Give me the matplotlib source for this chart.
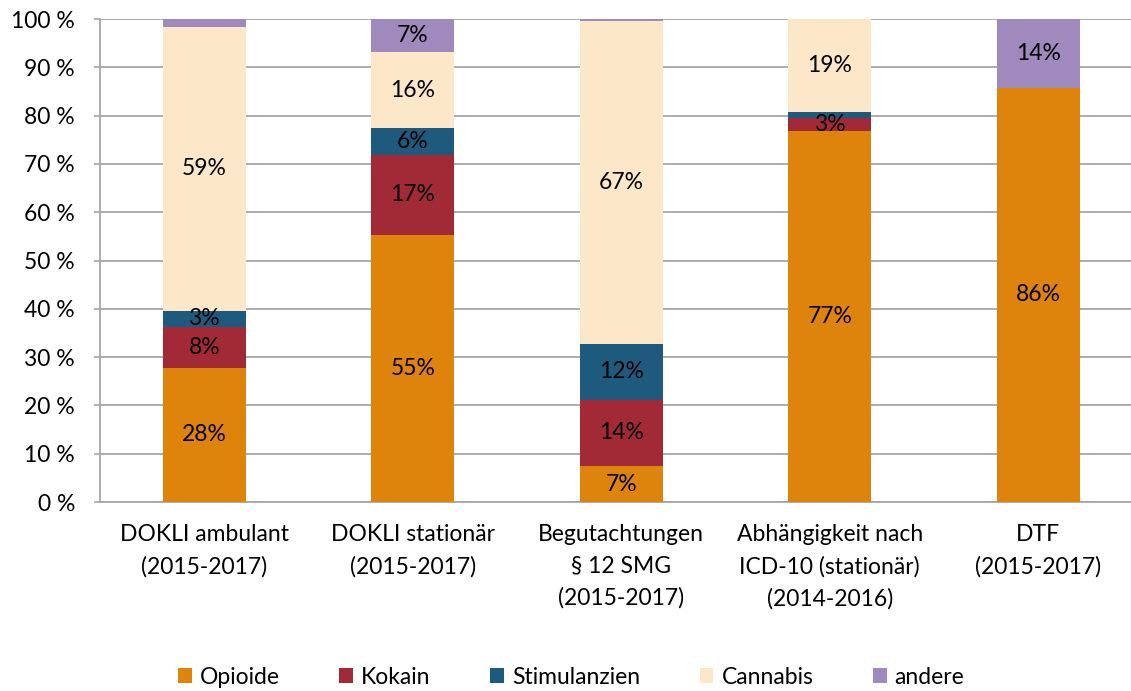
import matplotlib.pyplot as plt
import numpy as np

plt.rcParams['font.family'] = ['Lato', 'DejaVu Sans']

kategorien = ["DOKLI ambulant\n(2015-2017)", "DOKLI stationär\n(2015-2017)",
              "Begutachtungen\n§ 12 SMG\n(2015-2017)",
              "Abhängigkeit nach\nICD-10 (stationär)\n(2014-2016)", "DTF\n(2015-2017)"]
opioide = [27.8, 55.3, 7.4, 76.9, 85.8]
kokain = [8.4, 16.6, 13.8, 2.7, 0.0]
stimulanzien = [3.4, 5.6, 11.6, 1.2, 0.0]
cannabis = [58.7, 15.6, 66.8, 19.2, 0.0]
andere = [1.7, 6.9, 0.4, 0.0, 14.2]

serien = ["Opioide", "Kokain", "Stimulanzien", "Cannabis", "andere"]
werte = [opioide, kokain, stimulanzien, cannabis, andere]
farben = ["#DE830B", "#A22A37", "#1E5A7E", "#FDE7C9", "#A089BD"]

fs = 16.5

fig = plt.figure(figsize=(11.31, 6.91), dpi=100)
ax = fig.add_axes([0.0884, 0.2735, 0.9116, 0.699])

x = np.arange(len(kategorien))
unten = np.zeros(len(kategorien))
for name, w, c in zip(serien, werte, farben):
    w = np.array(w)
    ax.bar(x, w, 0.4, bottom=unten, color=c, label=name, zorder=3)
    for xi, b, v in zip(x, unten, w):
        if v >= 2.5:
            ax.text(xi, b + v / 2, f"{v:.0f}%", ha="center", va="center",
                    fontsize=fs, color="black", zorder=4)
    unten += w

ax.set_xlim(-0.5, 4.445)
ax.set_ylim(0, 100)
ax.set_yticks(range(0, 101, 10))
ax.set_yticklabels([f"{t} %" for t in range(0, 101, 10)], fontsize=fs)
ax.set_xticks(x)
ax.set_xticklabels(kategorien, fontsize=fs, linespacing=1.6)
ax.tick_params(axis="x", length=0, pad=16)
ax.tick_params(axis="y", length=4, color="#A6A6A6", width=1.2, pad=14)
ax.grid(axis="y", color="#A6A6A6", linewidth=1.3, zorder=0)
for s in ["top", "right"]:
    ax.spines[s].set_visible(False)
for s in ["left", "bottom"]:
    ax.spines[s].set_color("#A6A6A6")
    ax.spines[s].set_linewidth(1.3)

fig.legend(loc="center", bbox_to_anchor=(0.505, 0.02), ncol=5, frameon=False,
           fontsize=fs, handlelength=0.6, handleheight=0.6, handletextpad=0.35,
           columnspacing=2.6)

fig.savefig("out.png", dpi=100)
